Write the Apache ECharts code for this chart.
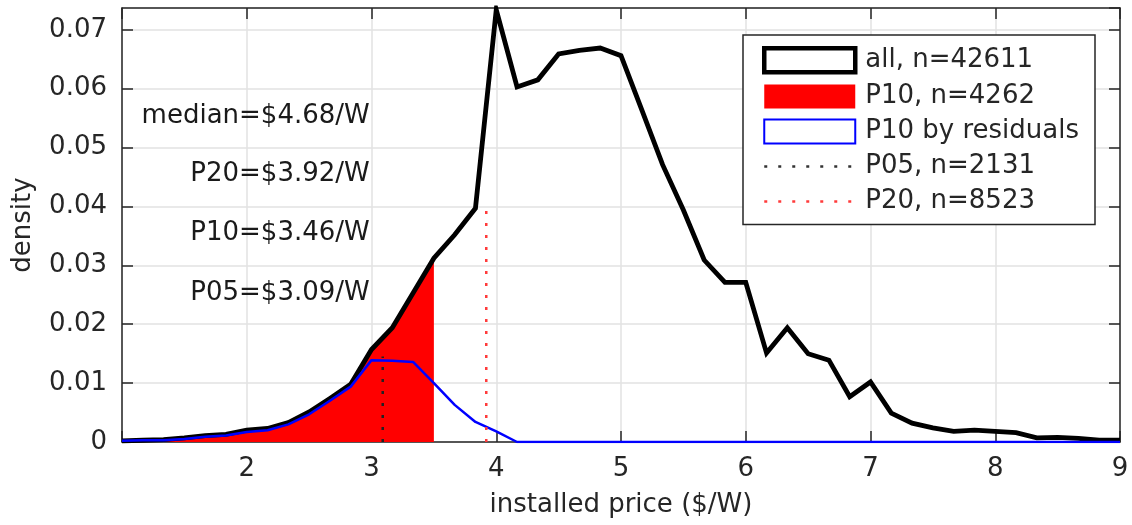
<!DOCTYPE html>
<html>
<head>
<meta charset="utf-8">
<script src="https://cdn.jsdelivr.net/npm/echarts@6/dist/echarts.min.js"></script>
<style>
html,body{margin:0;padding:0;background:#fff;}
#chart{width:1132px;height:525px;}
</style>
</head>
<body>
<div id="chart"></div>
<script>
// price bins ($/W), step 1/6
const priceBins = [1.0000,1.1667,1.3333,1.5000,1.6667,1.8333,2.0000,2.1667,2.3333,2.5000,2.6667,2.8333,
  3.0000,3.1667,3.3333,3.5000,3.6667,3.8333,4.0000,4.1667,4.3333,4.5000,4.6667,4.8333,
  5.0000,5.1667,5.3333,5.5000,5.6667,5.8333,6.0000,6.1667,6.3333,6.5000,6.6667,6.8333,
  7.0000,7.1667,7.3333,7.5000,7.6667,7.8333,8.0000,8.1667,8.3333,8.5000,8.6667,8.8333,9.0000];

// density of all systems
const allDensity = [0.0002,0.0003,0.0004,0.0007,0.0011,0.0013,0.0020,0.0023,0.0033,0.0051,0.0074,0.0098,
  0.0157,0.0194,0.0253,0.0312,0.0352,0.0397,0.0734,0.0603,0.0615,0.0659,0.0665,0.0669,
  0.0656,0.0564,0.0471,0.0394,0.0309,0.0271,0.0271,0.0151,0.0194,0.0150,0.0139,0.0077,
  0.0102,0.0049,0.0032,0.0024,0.0018,0.0020,0.0018,0.0016,0.0007,0.0008,0.0006,0.0003,0.0003];

// P10 subset (filled), bins up to 3.5 $/W
const p10Bins = [1.0000,1.1667,1.3333,1.5000,1.6667,1.8333,2.0000,2.1667,2.3333,2.5000,2.6667,2.8333,
  3.0000,3.1667,3.3333,3.5000];
const p10Density = [0.0002,0.0003,0.0004,0.0007,0.0011,0.0013,0.0020,0.0023,0.0033,0.0051,0.0074,0.0098,
  0.0157,0.0194,0.0253,0.0312];

// P10 by residuals
const residDensity = [0.0002,0.0003,0.0003,0.0005,0.0009,0.0011,0.0017,0.0020,0.0030,0.0047,0.0070,0.0094,
  0.0139,0.0138,0.0136,0.0100,0.0063,0.0034,0.0018,0.0000,0.0000,0.0000,0.0000,0.0000,
  0.0000,0.0000,0.0000,0.0000,0.0000,0.0000,0.0000,0.0000,0.0000,0.0000,0.0000,0.0000,
  0.0000,0.0000,0.0000,0.0000,0.0000,0.0000,0.0000,0.0000,0.0000,0.0000,0.0000,0.0000,0.0000];

// percentile markers: price and line height
const p05Price = 3.09, p05Top = 0.0145;
const p20Price = 3.92, p20Top = 0.0395;

// legend names
const legendNames = ['all, n=42611','P10, n=4262','P10 by residuals','P05, n=2131','P20, n=8523'];

// annotation texts and their anchor (data coords, right-aligned)
const noteTexts = ['median=$4.68/W','P20=$3.92/W','P10=$3.46/W','P05=$3.09/W'];
const noteX = [2.99,2.99,2.99,2.99];
const noteY = [0.0553,0.0454,0.0355,0.0253];

// axis ticks
const xTickStep = 1, xMin = 1, xMax = 9;
const yTickStep = 0.01, yMin = 0, yMax = 0.0737;

const pair = (xs, ys) => xs.map((x, i) => [x, ys[i]]);

const FONT = 'DejaVu Sans';
const AX = '#262626';
const GRID = '#e2e2e2';

const chart = echarts.init(document.getElementById('chart'), null, {renderer: 'canvas'});

const baseX = {
  type: 'value', min: xMin, max: xMax, interval: xTickStep,
  axisLine: {show: true, onZero: false, lineStyle: {color: AX, width: 1.5}},
  axisTick: {show: true, inside: true, length: 11, lineStyle: {color: AX, width: 1.5}},
};
const baseY = {
  type: 'value', min: yMin, max: yMax, interval: yTickStep,
  axisLine: {show: true, onZero: false, lineStyle: {color: AX, width: 1.5}},
  axisTick: {show: true, inside: true, length: 11, lineStyle: {color: AX, width: 1.5}},
};

const isStep = (v, s) => Math.abs(v / s - Math.round(v / s)) < 1e-6;

chart.setOption({
  animation: false,
  backgroundColor: '#fff',
  grid: {left: 122, right: 12, top: 8, bottom: 83, containLabel: false},
  xAxis: [
    Object.assign({}, baseX, {
      position: 'bottom',
      splitLine: {show: true, lineStyle: {color: GRID, width: 1.5}},
      axisLabel: {
        show: true, margin: 14, fontSize: 26, fontFamily: FONT, color: AX,
        formatter: v => (v === xMin ? '' : String(v))
      },
      name: 'installed price ($/W)', nameLocation: 'middle', nameGap: 50,
      nameTextStyle: {fontSize: 26, fontFamily: FONT, color: AX}
    }),
    Object.assign({}, baseX, {
      position: 'top',
      splitLine: {show: false},
      axisLabel: {show: false}
    })
  ],
  yAxis: [
    Object.assign({}, baseY, {
      position: 'left',
      splitLine: {show: true, lineStyle: {color: GRID, width: 1.5}},
      axisLabel: {
        show: true, margin: 15, fontSize: 26, fontFamily: FONT, color: AX,
        showMaxLabel: false,
        formatter: v => (isStep(v, yTickStep) ? (v === 0 ? '0' : (Math.round(v / yTickStep) * yTickStep).toFixed(2)) : '')
      },
      name: 'density', nameLocation: 'middle', nameGap: 86,
      nameTextStyle: {fontSize: 26, fontFamily: FONT, color: AX}
    }),
    Object.assign({}, baseY, {
      position: 'right',
      splitLine: {show: false},
      axisLabel: {show: false}
    })
  ],
  legend: {
    orient: 'vertical',
    left: 743, top: 35,
    padding: [11, 16, 10, 19],
    itemWidth: 91, itemHeight: 24, itemGap: 9,
    backgroundColor: '#fff',
    borderColor: AX, borderWidth: 1.5,
    selectedMode: false,
    textStyle: {fontSize: 26, fontFamily: FONT, color: AX, lineHeight: 26, padding: [0, 0, 0, 5]},
    data: [
      {name: legendNames[0], icon: 'rect', itemStyle: {color: '#fff', borderColor: '#000', borderWidth: 4.5}},
      {name: legendNames[1], icon: 'rect', itemStyle: {color: '#ff0000', borderWidth: 0}},
      {name: legendNames[2], icon: 'rect', itemStyle: {color: '#fff', borderColor: '#0000ff', borderWidth: 2}},
      {name: legendNames[3], itemStyle: {opacity: 0}, lineStyle: {color: '#333', width: 2.5, type: [3, 11]}},
      {name: legendNames[4], itemStyle: {opacity: 0}, lineStyle: {color: '#ff3b3b', width: 2.5, type: [3, 11]}}
    ]
  },
  series: [
    {
      name: legendNames[1], type: 'line', z: 1,
      data: pair(p10Bins, p10Density),
      symbol: 'none', showSymbol: false,
      lineStyle: {width: 0, color: '#ff0000'},
      itemStyle: {color: '#ff0000'},
      areaStyle: {color: '#ff0000', opacity: 1}
    },
    {
      name: legendNames[0], type: 'line', z: 3,
      data: pair(priceBins, allDensity),
      symbol: 'none', showSymbol: false,
      lineStyle: {width: 4.8, color: '#000', join: 'miter'},
      itemStyle: {color: '#000'}
    },
    {
      name: legendNames[2], type: 'line', z: 4,
      data: pair(priceBins, residDensity),
      symbol: 'none', showSymbol: false,
      lineStyle: {width: 2.5, color: '#0000ff'},
      itemStyle: {color: '#0000ff'}
    },
    {
      name: legendNames[3], type: 'line', z: 5,
      data: [[p05Price, 0], [p05Price, p05Top]],
      symbol: 'none', showSymbol: false,
      lineStyle: {width: 2.5, color: '#222', type: [3, 9]},
      itemStyle: {color: '#222'}
    },
    {
      name: legendNames[4], type: 'line', z: 5,
      data: [[p20Price, 0], [p20Price, p20Top]],
      symbol: 'none', showSymbol: false,
      lineStyle: {width: 2.5, color: '#ff3b3b', type: [3, 9]},
      itemStyle: {color: '#ff3b3b'}
    },
    {
      name: 'notes', type: 'scatter', z: 6, silent: true,
      data: noteX.map((x, i) => ({value: [x, noteY[i]], label: {formatter: noteTexts[i]}})),
      symbolSize: 1,
      itemStyle: {color: 'rgba(0,0,0,0)', opacity: 1},
      label: {show: true, position: 'left', distance: 0, fontSize: 26, fontFamily: FONT, color: '#1a1a1a'}
    }
  ]
});
</script>
</body>
</html>
